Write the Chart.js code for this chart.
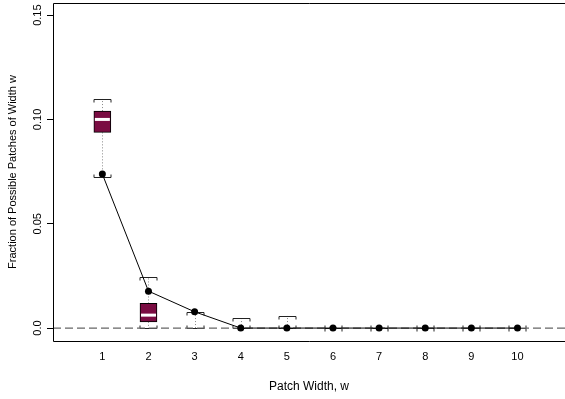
<!DOCTYPE html>
<html>
<head>
<meta charset="utf-8">
<script src="https://cdn.jsdelivr.net/npm/chart.js@4.4.1/dist/chart.umd.min.js"></script>
<style>
  html, body { margin: 0; padding: 0; background: #fff; }
  #wrap { width: 565px; height: 399px; }
</style>
</head>
<body>
<div id="wrap"><canvas id="chart" width="565" height="399"></canvas></div>
<script>
// patch widths and box summaries
const widths = [1, 2, 3, 4, 5, 6, 7, 8, 9, 10];
const whiskLow = [0.0725, 0, 0, 0, 0, 0, 0, 0, 0, 0];
const q1 = [0.0938, 0.0030, 0, 0, 0, 0, 0, 0, 0, 0];
const median = [0.1000, 0.0062, 0, 0, 0, 0, 0, 0, 0, 0];
const q3 = [0.1040, 0.0118, 0, 0, 0, 0, 0, 0, 0, 0];
const whiskHigh = [0.1098, 0.0243, 0.0075, 0.0046, 0.0058, 0, 0, 0, 0, 0];
const observed = [0.0738, 0.0177, 0.0078, 0, 0, 0, 0, 0, 0, 0];

const xTicks = [1, 2, 3, 4, 5, 6, 7, 8, 9, 10];
const xTickLabels = ['1', '2', '3', '4', '5', '6', '7', '8', '9', '10'];
const yTicks = [0, 0.05, 0.10, 0.15];
const yTickLabels = ['0.0', '0.05', '0.10', '0.15'];

const BOX_PX = 17;
const boxFill = '#7a0c42';

function seg(ctx, x1, y1, x2, y2) {
    ctx.beginPath();
    ctx.moveTo(x1, y1);
    ctx.lineTo(x2, y2);
    ctx.stroke();
}
const snap = v => Math.round(v) + 0.5;

const boxExtras = {
    id: 'boxExtras',
    beforeDatasetsDraw(chart) {
        const {ctx, scales: {x, y}} = chart;
        const half = BOX_PX / 2;
        ctx.save();
        ctx.lineWidth = 1;
        widths.forEach((w, i) => {
            const cx = snap(x.getPixelForValue(w));
            // dotted whiskers
            ctx.strokeStyle = '#888';
            ctx.setLineDash([1, 2]);
            seg(ctx, cx, y.getPixelForValue(q3[i]), cx, y.getPixelForValue(whiskHigh[i]));
            seg(ctx, cx, y.getPixelForValue(q1[i]), cx, y.getPixelForValue(whiskLow[i]));
            ctx.setLineDash([]);
            // bracket caps
            ctx.strokeStyle = '#222';
            const yt = snap(y.getPixelForValue(whiskHigh[i]));
            ctx.beginPath();
            ctx.moveTo(cx - half, yt + 3);
            ctx.lineTo(cx - half, yt);
            ctx.lineTo(cx + half, yt);
            ctx.lineTo(cx + half, yt + 3);
            ctx.stroke();
            const yb = snap(y.getPixelForValue(whiskLow[i]));
            ctx.beginPath();
            ctx.moveTo(cx - half, yb - 3);
            ctx.lineTo(cx - half, yb);
            ctx.lineTo(cx + half, yb);
            ctx.lineTo(cx + half, yb - 3);
            ctx.stroke();
        });
        ctx.restore();
    },
    afterDatasetDraw(chart, args) {
        if (args.meta.type !== 'bar') return;
        const {ctx, scales: {x, y}} = chart;
        const half = BOX_PX / 2 - 1;
        ctx.save();
        ctx.strokeStyle = '#fff';
        ctx.lineWidth = 3;
        widths.forEach((w, i) => {
            if (q3[i] <= q1[i]) return;
            const cx = x.getPixelForValue(w);
            const ym = y.getPixelForValue(median[i]);
            seg(ctx, cx - half, ym, cx + half, ym);
        });
        ctx.restore();
    },
    afterDraw(chart) {
        const {ctx, chartArea: a, scales: {y}} = chart;
        ctx.save();
        // frame (no right side, it runs off the picture)
        ctx.strokeStyle = '#000';
        ctx.lineWidth = 1;
        ctx.beginPath();
        ctx.moveTo(a.right, snap(a.top));
        ctx.lineTo(snap(a.left), snap(a.top));
        ctx.lineTo(snap(a.left), snap(a.bottom));
        ctx.lineTo(a.right, snap(a.bottom));
        ctx.stroke();
        // rotated y tick labels
        ctx.fillStyle = '#000';
        ctx.font = '11px "Liberation Sans", Arial, sans-serif';
        ctx.textAlign = 'center';
        ctx.textBaseline = 'middle';
        yTicks.forEach((v, i) => {
            ctx.save();
            ctx.translate(38, y.getPixelForValue(v));
            ctx.rotate(-Math.PI / 2);
            ctx.fillText(yTickLabels[i], 0, 0);
            ctx.restore();
        });
        ctx.restore();
    }
};

new Chart(document.getElementById('chart'), {
    type: 'bar',
    data: {
        datasets: [
            {
                type: 'line',
                data: widths.map((w, i) => ({x: w, y: observed[i]})),
                borderColor: '#000',
                borderWidth: 1,
                pointRadius: 3.5,
                pointBackgroundColor: '#000',
                pointBorderColor: '#000',
                pointBorderWidth: 0,
                order: 0
            },
            {
                type: 'bar',
                data: widths.map((w, i) => ({x: w, y: [q1[i], q3[i]]})),
                backgroundColor: boxFill,
                borderColor: '#000',
                borderWidth: 1,
                borderSkipped: false,
                barThickness: BOX_PX,
                order: 2
            },
            {
                type: 'line',
                data: [{x: -0.07, y: 0}, {x: 11.03, y: 0}],
                borderColor: '#666',
                borderWidth: 1.3,
                borderDash: [8, 4],
                pointRadius: 0,
                order: 3
            }
        ]
    },
    options: {
        responsive: false,
        animation: false,
        layout: {autoPadding: false, padding: {top: 3, left: 0, right: 0, bottom: 0}},
        plugins: {legend: {display: false}, tooltip: {enabled: false}},
        scales: {
            x: {
                type: 'linear',
                min: -0.07,
                max: 11.03,
                offset: false,
                afterBuildTicks: s => { s.ticks = xTicks.map(v => ({value: v})); },
                afterFit: s => { s.height = 58; s.paddingLeft = 0; s.paddingRight = 0; },
                grid: {display: false, drawTicks: false},
                border: {display: false},
                ticks: {
                    color: '#000',
                    padding: 9,
                    maxRotation: 0,
                    font: {family: '"Liberation Sans", Arial, sans-serif', size: 11},
                    callback: (v, i) => xTickLabels[i]
                },
                title: {
                    display: true,
                    text: 'Patch Width, w',
                    color: '#000',
                    padding: {top: 0, bottom: 5},
                    font: {family: '"Liberation Sans", Arial, sans-serif', size: 12}
                }
            },
            y: {
                min: -0.0062,
                max: 0.1558,
                afterBuildTicks: s => { s.ticks = yTicks.map(v => ({value: v})); },
                afterFit: s => { s.width = 53; s.paddingTop = 0; s.paddingBottom = 0; },
                grid: {drawOnChartArea: false, tickLength: 6, color: '#000'},
                border: {display: false},
                ticks: {display: false},
                title: {
                    display: true,
                    text: 'Fraction of Possible Patches of Width w',
                    color: '#000',
                    padding: {top: 6, bottom: 0},
                    font: {family: '"Liberation Sans", Arial, sans-serif', size: 11}
                }
            }
        }
    },
    plugins: [boxExtras]
});
</script>
</body>
</html>
